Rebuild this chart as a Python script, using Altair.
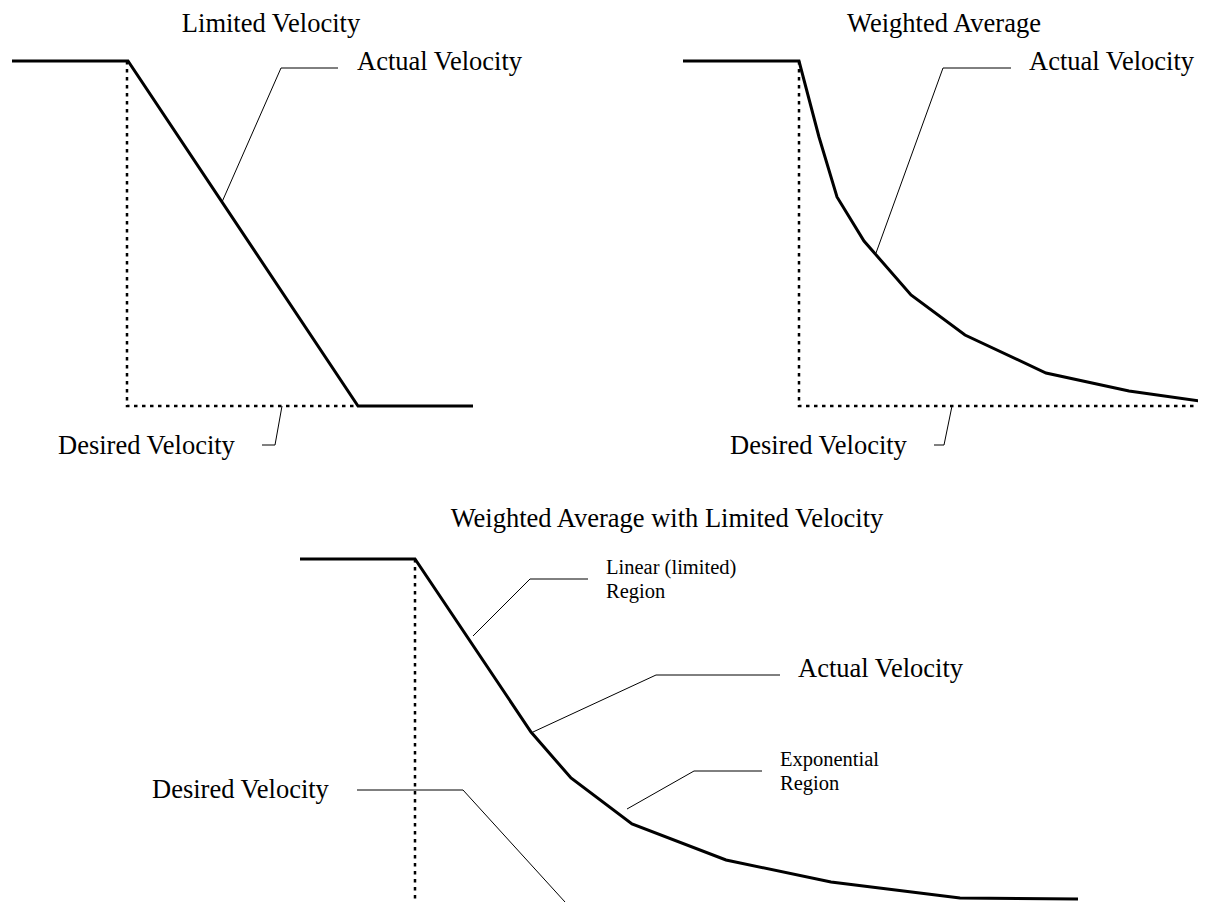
import altair as alt
import pandas as pd

# ---------------- data (picture coordinates, y downwards) ----------------
# Panel 1: Limited Velocity
lv_actual_x = [12, 128, 358, 473]
lv_actual_y = [61, 61, 406, 406]
lv_desired_x = [127, 127, 358]
lv_desired_y = [61, 406, 406]
lv_actual_leader_x = [222, 281, 338]
lv_actual_leader_y = [202, 68, 68]
lv_desired_leader_x = [282, 275, 262]
lv_desired_leader_y = [406, 445, 445]

# Panel 2: Weighted Average
wa_actual_x = [683, 799, 819, 837, 864, 911, 965, 1046, 1129, 1206]
wa_actual_y = [61, 61, 137, 197, 241, 295, 335, 373, 391, 402]
wa_desired_x = [799, 799, 1206]
wa_desired_y = [61, 406, 406]
wa_actual_leader_x = [876, 943, 1011]
wa_actual_leader_y = [253, 68, 68]
wa_desired_leader_x = [952, 944, 934]
wa_desired_leader_y = [406, 445, 445]

# Panel 3: Weighted Average with Limited Velocity
wl_actual_x = [300, 415, 531, 571, 632, 726, 831, 960, 1078]
wl_actual_y = [559, 559, 732, 778, 824, 860, 882, 898, 899]
wl_desired_x = [415, 415]
wl_desired_y = [559, 902]
wl_linear_leader_x = [473, 530, 588]
wl_linear_leader_y = [636, 579, 579]
wl_actual_leader_x = [533, 656, 780]
wl_actual_leader_y = [732, 675, 675]
wl_exp_leader_x = [627, 694, 762]
wl_exp_leader_y = [809, 771, 771]
wl_desired_leader_x = [357, 463, 565]
wl_desired_leader_y = [790, 790, 902]

# Texts
title_text = ["Limited Velocity", "Weighted Average", "Weighted Average with Limited Velocity"]
title_x = [271, 944, 667]
title_y = [32, 32, 527]

label_text = ["Actual Velocity", "Desired Velocity", "Actual Velocity",
              "Desired Velocity", "Actual Velocity", "Desired Velocity"]
label_x = [357, 58, 1029, 730, 798, 152]
label_y = [70, 454, 70, 454, 677, 798]

small_text = ["Linear (limited)", "Region", "Exponential", "Region"]
small_x = [606, 606, 780, 780]
small_y = [574, 598, 766, 790]

# ---------------- tables ----------------
def rows(name, style, xs, ys):
    return [{"group": name, "style": style, "order": i, "x": x, "y": y}
            for i, (x, y) in enumerate(zip(xs, ys))]

line_rows = []
line_rows += rows("lv_actual", "actual", lv_actual_x, lv_actual_y)
line_rows += rows("wa_actual", "actual", wa_actual_x, wa_actual_y)
line_rows += rows("wl_actual", "actual", wl_actual_x, wl_actual_y)
line_rows += rows("lv_desired", "desired", lv_desired_x, lv_desired_y)
line_rows += rows("wa_desired", "desired", wa_desired_x, wa_desired_y)
line_rows += rows("wl_desired", "desired", wl_desired_x, wl_desired_y)
line_rows += rows("l1", "leader", lv_actual_leader_x, lv_actual_leader_y)
line_rows += rows("l2", "leader", lv_desired_leader_x, lv_desired_leader_y)
line_rows += rows("l3", "leader", wa_actual_leader_x, wa_actual_leader_y)
line_rows += rows("l4", "leader", wa_desired_leader_x, wa_desired_leader_y)
line_rows += rows("l5", "leader", wl_linear_leader_x, wl_linear_leader_y)
line_rows += rows("l6", "leader", wl_actual_leader_x, wl_actual_leader_y)
line_rows += rows("l7", "leader", wl_exp_leader_x, wl_exp_leader_y)
line_rows += rows("l8", "leader", wl_desired_leader_x, wl_desired_leader_y)
lines = pd.DataFrame(line_rows)

titles = pd.DataFrame({"t": title_text, "x": title_x, "y": title_y})
labels = pd.DataFrame({"t": label_text, "x": label_x, "y": label_y})
smalls = pd.DataFrame({"t": small_text, "x": small_x, "y": small_y})

xs = alt.Scale(domain=[0, 1206], nice=False, zero=False)
ys = alt.Scale(domain=[0, 902], nice=False, zero=False, reverse=True)
X = alt.X("x:Q", scale=xs, axis=None)
Y = alt.Y("y:Q", scale=ys, axis=None)

base = alt.Chart(lines).encode(x=X, y=Y, detail="group:N", order="order:Q")

actual = base.transform_filter(alt.datum.style == "actual").mark_line(
    color="black", strokeWidth=3, strokeCap="butt", strokeJoin="miter", clip=False)
desired = base.transform_filter(alt.datum.style == "desired").mark_line(
    color="black", strokeWidth=2.5, strokeDash=[3.5, 4.5], strokeCap="butt", clip=False)
leader = base.transform_filter(alt.datum.style == "leader").mark_line(
    color="black", strokeWidth=1, clip=False)

FONT = "Liberation Serif"
title_layer = alt.Chart(titles).mark_text(
    font=FONT, fontSize=26.5, align="center", baseline="alphabetic", color="black"
).encode(x=X, y=Y, text="t:N")
label_layer = alt.Chart(labels).mark_text(
    font=FONT, fontSize=26.5, align="left", baseline="alphabetic", color="black"
).encode(x=X, y=Y, text="t:N")
small_layer = alt.Chart(smalls).mark_text(
    font=FONT, fontSize=20.5, align="left", baseline="alphabetic", color="black"
).encode(x=X, y=Y, text="t:N")

chart = alt.layer(desired, leader, actual, title_layer, label_layer, small_layer).properties(
    width=1206, height=902,
    padding={"left": -8, "top": -8, "right": -8, "bottom": 0},
    autosize=alt.AutoSizeParams(type="none"),
    background="white",
).configure_view(stroke=None)

chart.save("out.html", embed_options={"renderer": "svg", "actions": False})
